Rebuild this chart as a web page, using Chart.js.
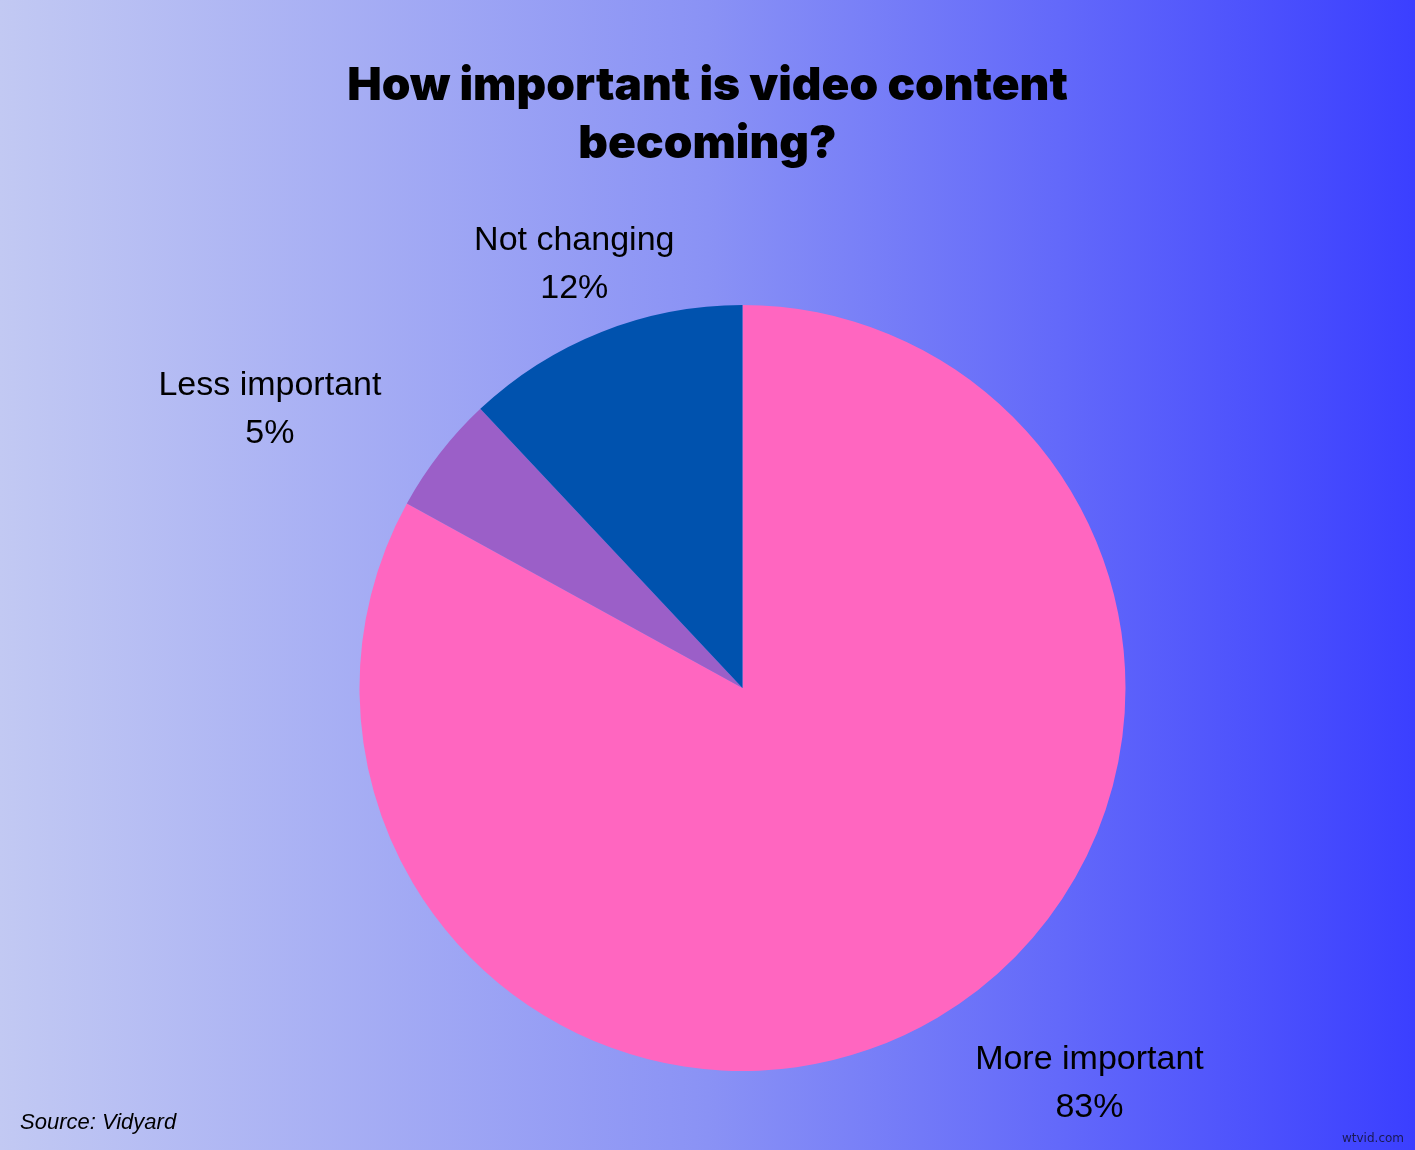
<!DOCTYPE html>
<html>
<head>
<meta charset="utf-8">
<title>How important is video content becoming?</title>
<script src="https://cdn.jsdelivr.net/npm/chart.js@4.4.1/dist/chart.umd.min.js"></script>
<style>
    html, body { margin: 0; padding: 0; }
    body { width: 1415px; height: 1150px; overflow: hidden; }
    #pie { display: block; }
</style>
</head>
<body>
<canvas id="pie" width="1415" height="1150"></canvas>
<script>
const categories = ["More important", "Less important", "Not changing"];
const shares = [83, 5, 12];
const sliceColors = ["#ff66c0", "#9b5fc8", "#0052ae"];
const titleLines = ["How important is video content", "becoming?"];
const sourceText = "Source: Vidyard";

const gradientBackground = {
    id: "gradientBackground",
    beforeDraw(chart) {
        const ctx = chart.ctx;
        const grad = ctx.createLinearGradient(0, 0, chart.width, 0);
        grad.addColorStop(0, "#c2c9f3");
        grad.addColorStop(0.5, "#8a92f5");
        grad.addColorStop(1, "#3b3fff");
        ctx.save();
        ctx.fillStyle = grad;
        ctx.fillRect(0, 0, chart.width, chart.height);
        ctx.restore();
    }
}

// title is centred on the page, not on the (offset) pie, so draw it here
const pageTexts = {
    id: "pageTexts",
    afterDraw(chart) {
        const ctx = chart.ctx;
        ctx.save();
        ctx.fillStyle = "#000";
        ctx.textBaseline = "middle";
        ctx.textAlign = "center";
        ctx.font = "900 46px Inter, 'Open Sans', sans-serif";
        titleLines.forEach((line, i) => ctx.fillText(line, chart.width / 2, 86 + i * 58));

        ctx.font = "italic 22px 'Liberation Sans', Arial, sans-serif";
        ctx.textAlign = "left";
        ctx.fillText(sourceText, 20, 1123);

        ctx.fillStyle = "#1a1a50";
        ctx.font = "12px 'DejaVu Sans', sans-serif";
        ctx.textAlign = "center";
        ctx.fillText("wtvid.com", 1373, 1139);
        ctx.restore();
    }
}

const outerLabels = {
    id: "outerLabels",
    afterDatasetsDraw(chart) {
        const ctx = chart.ctx;
        const arcs = chart.getDatasetMeta(0).data;
        ctx.save();
        ctx.fillStyle = "#000";
        ctx.font = "34px 'Liberation Sans', Arial, sans-serif";
        ctx.textBaseline = "middle";
        arcs.forEach((arc, i) => {
            const mid = (arc.startAngle + arc.endAngle) / 2;
            const r = arc.outerRadius + 74;
            const x = arc.x + Math.cos(mid) * r;
            const y = arc.y + Math.sin(mid) * r + 2;
            const c = Math.cos(mid);
            ctx.textAlign = Math.abs(c) < 0.45 ? "center" : (c > 0 ? "left" : "right");
            ctx.fillText(categories[i], x, y - 24);
            // the percentage sits centred under its own label
            let w = ctx.measureText(categories[i]).width;
            let cx = x;
            if (ctx.textAlign === "left") cx = x + w / 2;
            if (ctx.textAlign === "right") cx = x - w / 2;
            ctx.textAlign = "center";
            ctx.fillText(shares[i] + "%", cx, y + 24);
        });
        ctx.restore();
    }
}

new Chart(document.getElementById("pie"), {
    type: "pie",
    data: {
        labels: categories,
        datasets: [{
            data: shares,
            backgroundColor: sliceColors,
            borderWidth: 0
        }]
    },
    options: {
        responsive: false,
        animation: false,
        layout: {
            padding: { top: 305, left: 359, right: 289, bottom: 79 }
        },
        plugins: {
            legend: { display: false },
            tooltip: { enabled: false },
            title: { display: false }
        }
    },
    plugins: [gradientBackground, outerLabels, pageTexts]
});
</script>
</body>
</html>
